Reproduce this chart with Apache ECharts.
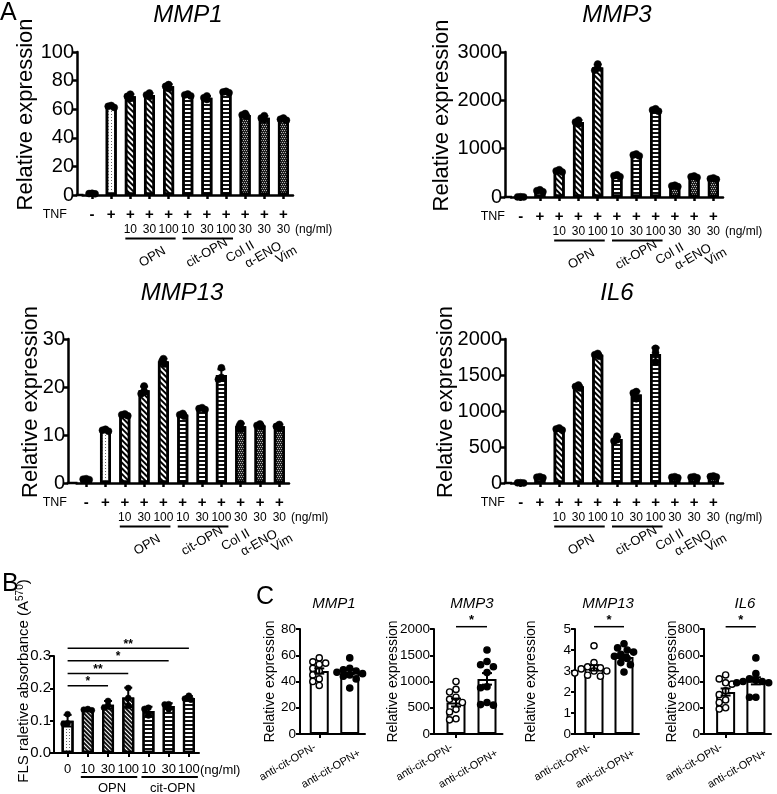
<!DOCTYPE html>
<html><head><meta charset="utf-8">
<script src="https://cdn.jsdelivr.net/npm/echarts@6/dist/echarts.min.js"></script>
<style>html,body{margin:0;padding:0;background:#fff}#c{width:777px;height:794px}</style>
</head><body><div id="c"></div>
<script>
// ================= DATA =================
// Panel A (four genes, 11 conditions)
const aCategories = ['TNF-', 'TNF', 'OPN 10', 'OPN 30', 'OPN 100', 'cit-OPN 10', 'cit-OPN 30', 'cit-OPN 100', 'Col II 30', 'α-ENO 30', 'Vim 30'];
const aTnf = ['-', '+', '+', '+', '+', '+', '+', '+', '+', '+', '+'];
const aDose = ['', '', '10', '30', '100', '10', '30', '100', '30', '30', '30'];
const aUnderlineFrom = [2, 5];
const aUnderlineTo = [4, 7];
const aNames = ['OPN', 'cit-OPN', 'Col II', 'α-ENO', 'Vim'];
const aNameCat = [3, 6, 8, 9, 10];

const mmp1Mean = [1, 62, 69, 70, 76, 70, 68, 72, 56, 54, 53];
const mmp1Sd = [0.3, 0.8, 1.5, 1.2, 1.5, 0.7, 1.2, 0.5, 1.0, 1.3, 0.8];
const mmp1Pts = [[0.8, 1.0, 1.2], [61.2, 62, 62.6], [67.5, 69, 70.5], [68.8, 70, 71.3], [74.5, 76, 77.2], [69.3, 70, 70.6], [66.8, 68, 69.3], [71.5, 72, 72.5], [55, 56, 57], [52.6, 53.8, 55.5], [52.3, 53, 53.8]];

const mmp3Mean = [0, 130, 540, 1550, 2680, 440, 870, 1800, 230, 420, 380];
const mmp3Sd = [8, 20, 25, 40, 60, 20, 20, 25, 15, 15, 15];
const mmp3Pts = [[0, 2, 5], [110, 130, 150], [515, 540, 565], [1510, 1550, 1590], [2620, 2670, 2750], [420, 440, 460], [850, 870, 890], [1775, 1800, 1825], [215, 230, 245], [405, 420, 435], [365, 380, 395]];

const mmp13Mean = [0.8, 11, 14.2, 19.3, 25.3, 14.2, 15.5, 22.5, 11.8, 12.0, 11.8];
const mmp13Sd = [0.1, 0.2, 0.2, 0.8, 0.6, 0.3, 0.2, 1.2, 0.6, 0.3, 0.4];
const mmp13Pts = [[0.7, 0.8, 0.9], [10.8, 11, 11.2], [14, 14.2, 14.4], [18.6, 19.1, 20.2], [24.8, 25.3, 25.9], [13.9, 14.2, 14.5], [15.3, 15.5, 15.7], [21.6, 22, 24], [11.2, 11.8, 12.4], [11.7, 12, 12.3], [11.4, 11.8, 12.2]];

const il6Mean = [0, 80, 750, 1340, 1780, 610, 1230, 1790, 80, 80, 90];
const il6Sd = [3, 8, 15, 20, 20, 30, 45, 90, 8, 8, 10];
const il6Pts = [[0, 2, 4], [72, 80, 88], [735, 750, 765], [1320, 1340, 1360], [1760, 1780, 1800], [585, 600, 650], [1170, 1250, 1270], [1680, 1810, 1870], [72, 80, 88], [72, 80, 88], [82, 90, 98]];

// Panel B
const bCategories = ['0', 'OPN 10', 'OPN 30', 'OPN 100', 'cit-OPN 10', 'cit-OPN 30', 'cit-OPN 100'];
const bDose = ['0', '10', '30', '100', '10', '30', '100'];
const bUnderlineFrom = [1, 4];
const bUnderlineTo = [3, 6];
const bNames = ['OPN', 'cit-OPN'];
const bMean = [0.100, 0.134, 0.149, 0.172, 0.130, 0.145, 0.170];
const bSd = [0.018, 0.002, 0.012, 0.030, 0.013, 0.009, 0.006];
const bPts = [[0.090, 0.092, 0.120], [0.132, 0.134, 0.136], [0.140, 0.147, 0.161], [0.146, 0.170, 0.201], [0.116, 0.136, 0.140], [0.135, 0.150, 0.151], [0.165, 0.168, 0.177]];
const bSigFrom = [0, 0, 0, 0];
const bSigTo = [2, 3, 5, 6];
const bSigY = [0.208, 0.246, 0.285, 0.324];
const bSigMark = ['*', '**', '*', '**'];

// Panel C
const cCategories = ['anti-cit-OPN-', 'anti-cit-OPN+'];
const cTitles = ['MMP1', 'MMP3', 'MMP13', 'IL6'];
const c1Neg = [55, 58, 54, 53, 50, 48, 45, 42, 40, 37];
const c1Pos = [58, 50, 49, 48, 47, 46, 45, 44, 42, 35];
const c1Mean = [48, 47.5];
const c1Sem = [2.0, 1.9];
const c2Neg = [1000, 850, 800, 700, 660, 600, 470, 420, 290, 270];
const c2Pos = [1600, 1380, 1320, 1280, 1170, 900, 880, 600, 560, 550];
const c2Mean = [600, 1050];
const c2Sem = [75, 110];
const c3Neg = [4.2, 3.4, 3.2, 3.15, 3.1, 3.0, 3.0, 2.9, 2.8, 2.75];
const c3Pos = [4.3, 4.1, 4.0, 3.9, 3.8, 3.7, 3.6, 3.4, 3.3, 2.95];
const c3Mean = [3.15, 3.67];
const c3Sem = [0.13, 0.12];
const c4Neg = [450, 420, 390, 380, 330, 300, 260, 240, 200, 190];
const c4Pos = [580, 460, 420, 410, 400, 400, 390, 390, 280, 280];
const c4Mean = [320, 405];
const c4Sem = [27, 27];
const cSigY = [null, 2044, 5.11, 817];

// ================= STYLE / LAYOUT =================
const FONT = '"Liberation Sans", Arial, Helvetica, sans-serif';
const L = [
  {axisX: 77, left: 82.5, right: 293, top: 52, bottom: 195, tnfRight: 67, nameGap: 40},   // A MMP1
  {axisX: 505, left: 511, right: 723, top: 52, bottom: 197, tnfRight: 505, nameGap: 52}, // A MMP3
  {axisX: 68, left: 76.5, right: 289, top: 339, bottom: 483, tnfRight: 67, nameGap: 26}, // A MMP13
  {axisX: 505, left: 511, right: 723, top: 339, bottom: 483, tnfRight: 505, nameGap: 48},// A IL6
  {axisX: 54, left: 57.5, right: 199, top: 656, bottom: 753},                             // B
  {axisX: 300, left: 304, right: 365, top: 629, bottom: 734, nameGap: 23},                // C1
  {axisX: 434, left: 440.5, right: 502.5, top: 629, bottom: 734, nameGap: 34},            // C2
  {axisX: 575, left: 579, right: 639, top: 629, bottom: 734, nameGap: 37},                // C3
  {axisX: 704, left: 710.5, right: 771, top: 629, bottom: 734, nameGap: 25}               // C4
];
const FILL = {
  stipple: {color: '#fff', decal: {symbol: 'rect', symbolSize: 1, color: '#666', dashArrayX: [[1, 2]], dashArrayY: [1, 2], rotation: 0}},
  diag: {color: '#fff', decal: {symbol: 'rect', symbolSize: 1, color: '#000', dashArrayX: [[1, 0]], dashArrayY: [2, 2], rotation: Math.PI / 4}},
  diagDark: {color: '#fff', decal: {symbol: 'rect', symbolSize: 1, color: '#111', dashArrayX: [[1, 0]], dashArrayY: [2, 1], rotation: Math.PI / 4}},
  horiz: {color: '#fff', decal: {symbol: 'rect', symbolSize: 1, color: '#111', dashArrayX: [[1, 0]], dashArrayY: [2, 2], rotation: 0}},
  check: {color: '#1e1e1e', decal: {symbol: 'rect', symbolSize: 0.9, color: '#c8c8c8', dashArrayX: [[1, 1], [0, 1, 1, 0]], dashArrayY: [1, 1], rotation: 0}},
  plain: {color: '#fff'}
};
const aFills = ['stipple', 'stipple', 'diag', 'diag', 'diag', 'horiz', 'horiz', 'horiz', 'check', 'check', 'check'];
const bFills = ['stipple', 'diagDark', 'diagDark', 'diagDark', 'horiz', 'horiz', 'horiz'];

function swarm(ys, minDist, step) {
  const order = ys.map((_, i) => i).sort((a, b) => ys[a] - ys[b]);
  const placed = [], offs = [];
  for (const i of order) {
    for (let k = 0; k < 80; k++) {
      const c = k === 0 ? 0 : (k % 2 ? -1 : 1) * Math.ceil(k / 2) * step;
      if (placed.every(p => (p.x - c) ** 2 + (p.y - ys[i]) ** 2 >= minDist * minDist - 1e-6)) {
        offs[i] = c; placed.push({x: c, y: ys[i]}); break;
      }
    }
  }
  return offs;
}

const grids = [], xAxes = [], yAxes = [], series = [];

function addPanel(g, cats, yCfg, xLabel, aw) {
  const l = L[g];
  grids.push({left: l.left, top: l.top, width: l.right - l.left, height: l.bottom - l.top, containLabel: false, outerBoundsMode: 'none'});
  xAxes.push(Object.assign({
    type: 'category', gridIndex: g, data: cats,
    axisLine: {show: true, lineStyle: {color: '#000', width: aw}},
    axisTick: {show: true, alignWithLabel: true, length: 4, lineStyle: {color: '#000', width: aw}},
    splitLine: {show: false}
  }, xLabel));
  yAxes.push({
    type: 'value', gridIndex: g, min: yCfg.min, max: yCfg.max, interval: yCfg.interval,
    offset: l.left - l.axisX,
    name: yCfg.name || '', nameLocation: 'middle', nameGap: l.nameGap || 30, nameMoveOverlap: false,
    nameTextStyle: {color: '#000', fontSize: yCfg.nameSize, fontFamily: FONT, padding: yCfg.namePad || 0},
    axisLine: {show: true, lineStyle: {color: '#000', width: aw}},
    axisTick: {show: true, length: 4, lineStyle: {color: '#000', width: aw}},
    axisLabel: {color: '#000', fontSize: yCfg.labelSize, fontFamily: FONT, margin: yCfg.margin, formatter: yCfg.fmt || (v => String(v))},
    splitLine: {show: false}
  });
}

function barSeries(g, means, fills, bw, bbw) {
  series.push({
    type: 'bar', xAxisIndex: g, yAxisIndex: g, barWidth: bw, silent: true, z: 2,
    data: means.map((v, i) => ({value: v, itemStyle: Object.assign({borderColor: '#000', borderWidth: bbw}, FILL[fills[i]])}))
  });
}
function errSeries(g, means, errs, capHalf, lw) {
  series.push({
    type: 'custom', xAxisIndex: g, yAxisIndex: g, clip: false, silent: true, z: 5,
    data: means.map((m, i) => [i, m, errs[i]]),
    renderItem(params, api) {
      const i = api.value(0), m = api.value(1), e = api.value(2);
      const t = api.coord([i, m + e]), b = api.coord([i, Math.max(m - e, 0)]);
      const st = {stroke: '#000', lineWidth: lw};
      return {type: 'group', children: [
        {type: 'line', shape: {x1: t[0], y1: t[1], x2: b[0], y2: b[1]}, style: st},
        {type: 'line', shape: {x1: t[0] - capHalf, y1: t[1], x2: t[0] + capHalf, y2: t[1]}, style: st},
        {type: 'line', shape: {x1: b[0] - capHalf, y1: b[1], x2: b[0] + capHalf, y2: b[1]}, style: st}
      ]};
    }
  });
}
function ptSeries(g, pts, r, lw, fillOf, minDist, step) {
  series.push({
    type: 'custom', xAxisIndex: g, yAxisIndex: g, clip: false, silent: true, z: 4,
    data: pts.map((p, i) => [i, p[0]]),
    renderItem(params, api) {
      const i = params.dataIndex;
      const c = pts[i].map(v => api.coord([i, v]));
      const offs = swarm(c.map(q => q[1]), minDist, step);
      return {type: 'group', children: c.map((q, k) => ({
        type: 'circle', shape: {cx: q[0] + offs[k], cy: q[1], r: r},
        style: {fill: fillOf(i), stroke: '#000', lineWidth: lw}
      }))};
    }
  });
}
function sigSeries(g, from, to, ys, marks, lw, gap, font) {
  series.push({
    type: 'custom', xAxisIndex: g, yAxisIndex: g, clip: false, silent: true, z: 5,
    data: from.map((f, k) => [f, ys[k]]),
    renderItem(params, api) {
      const k = params.dataIndex;
      const a = api.coord([from[k], ys[k]]), b = api.coord([to[k], ys[k]]);
      return {type: 'group', children: [
        {type: 'line', shape: {x1: a[0], y1: a[1], x2: b[0], y2: b[1]}, style: {stroke: '#000', lineWidth: lw}},
        {type: 'text', x: (a[0] + b[0]) / 2, y: a[1] - gap, style: {text: marks[k], fill: '#000', font: font, align: 'center', verticalAlign: 'middle'}}
      ]};
    }
  });
}

// ---- Panel A ----
const aLabel = {axisLabel: {
  interval: 0, margin: 12.5, color: '#000', fontFamily: FONT,
  formatter: (v, i) => '{s|' + aTnf[i] + '}\n{d|' + (aDose[i] || ' ') + '}',
  rich: {s: {fontSize: 15, fontWeight: 'bold', lineHeight: 15, fontFamily: FONT, color: '#000'},
         d: {fontSize: 12, lineHeight: 15, fontFamily: FONT, color: '#000'}}
}};
const aSets = [
  [mmp1Mean, mmp1Sd, mmp1Pts, {min: 0, max: 100, interval: 20}],
  [mmp3Mean, mmp3Sd, mmp3Pts, {min: 0, max: 3000, interval: 1000}],
  [mmp13Mean, mmp13Sd, mmp13Pts, {min: 0, max: 30, interval: 10}],
  [il6Mean, il6Sd, il6Pts, {min: 0, max: 2000, interval: 500}]
];
aSets.forEach((s, g) => {
  addPanel(g, aCategories, Object.assign({name: 'Relative expression', nameSize: 22, labelSize: 20, margin: 3, namePad: [0, 0, 0, 18]}, s[3]), aLabel, 2.5);
  barSeries(g, s[0], aFills, 11, 2.5);
  ptSeries(g, s[2], 3.5, 0.5, () => '#000', 3, 1.5);
  errSeries(g, s[0], s[1], 4, 2);
});

// ---- Panel B ----
addPanel(4, bCategories, {min: 0, max: 0.3, interval: 0.1, labelSize: 15, margin: 3, fmt: v => v.toFixed(1)},
  {axisLabel: {interval: 0, margin: 10, color: '#000', fontFamily: FONT, fontSize: 13, formatter: (v, i) => bDose[i]}}, 2);
barSeries(4, bMean, bFills, 12, 2.2);
ptSeries(4, bPts, 3, 0.5, () => '#000', 4, 2);
errSeries(4, bMean, bSd, 4, 2);
sigSeries(4, bSigFrom, bSigTo, bSigY, bSigMark, 1.5, 4, 'bold 12px ' + FONT);

// ---- Panel C ----
const cSets = [
  [c1Mean, c1Sem, [c1Neg, c1Pos], {min: 0, max: 80, interval: 20}],
  [c2Mean, c2Sem, [c2Neg, c2Pos], {min: 0, max: 2000, interval: 500}],
  [c3Mean, c3Sem, [c3Neg, c3Pos], {min: 0, max: 5, interval: 1}],
  [c4Mean, c4Sem, [c4Neg, c4Pos], {min: 0, max: 800, interval: 200}]
];
cSets.forEach((s, k) => {
  const g = 5 + k;
  addPanel(g, cCategories, Object.assign({name: 'Relative expression', nameSize: 14, labelSize: 13.5, margin: 4}, s[3]),
    {axisLabel: {show: false}}, 2);
  barSeries(g, s[0], ['plain', 'plain'], 19, 2);
  ptSeries(g, s[2], 3.1, 1.4, i => (i === 0 ? '#fff' : '#000'), 6.4, 3.2);
  errSeries(g, s[0], s[1], 5, 2);
  if (cSigY[k] != null) sigSeries(g, [0], [1], [cSigY[k]], ['*'], 1.5, 6, 'bold 13px ' + FONT);
});

const titleStyle = (size, italic) => ({color: '#000', fontFamily: FONT, fontSize: size, fontWeight: 'normal', fontStyle: italic ? 'italic' : 'normal', lineHeight: size});
const titles = [
  {text: 'A', left: 0, top: 1, textStyle: titleStyle(25)},
  {text: 'MMP1', left: 188, top: 3, textAlign: 'center', textStyle: titleStyle(24, true)},
  {text: 'MMP3', left: 617, top: 3, textAlign: 'center', textStyle: titleStyle(24, true)},
  {text: 'MMP13', left: 182, top: 281, textAlign: 'center', textStyle: titleStyle(24, true)},
  {text: 'IL6', left: 617, top: 281, textAlign: 'center', textStyle: titleStyle(24, true)},
  {text: 'B', left: 2, top: 572, textStyle: titleStyle(25)},
  {text: 'C', left: 256, top: 585, textStyle: titleStyle(25)}
];
const cTitleX = [334, 472, 608, 745];
cTitles.forEach((t, k) => titles.push({text: t, left: cTitleX[k], top: 596, textAlign: 'center', textStyle: titleStyle(15, true)}));
titles.forEach(t => { t.padding = 0; });

const option = {
  animation: false, backgroundColor: '#fff',
  title: titles, grid: grids, xAxis: xAxes, yAxis: yAxes, series: series
};
const chart = echarts.init(document.getElementById('c'), null, {width: 777, height: 794});
chart.setOption(option);

// ---- annotations tied to the axes ----
const px = (g, x, y) => chart.convertToPixel({gridIndex: g}, [x, y]);
const gfx = [];
function txt(x, y, text, font, o) {
  o = o || {};
  gfx.push({type: 'text', x: x, y: y, rotation: o.rot || 0, silent: true, z: 10,
    style: {text: text, fill: '#000', font: font, align: o.align || 'center', verticalAlign: o.va || 'middle', rich: o.rich}});
}
function ln(x1, y1, x2, y2, w) {
  gfx.push({type: 'line', silent: true, z: 10, shape: {x1: x1, y1: y1, x2: x2, y2: y2}, style: {stroke: '#000', lineWidth: w}});
}
// fill the gap between offset y axis and x axis start
L.forEach((l, g) => {
  const w = g < 4 ? 2.5 : 2;
  ln(l.axisX - w / 2, l.bottom, l.left + 1, l.bottom, w);
});
const aNameDx = [3, 0, -5, -1, 3];
const aNameDy = [62, 58, 57, 60, 60];
for (let g = 0; g < 4; g++) {
  const base = px(g, 0, 0)[1];
  txt(L[g].tnfRight, base + 20, 'TNF', '12.5px ' + FONT, {align: 'right'});
  txt(L[g].right + 2, base + 35, '(ng/ml)', '12px ' + FONT, {align: 'left'});
  aUnderlineFrom.forEach((f, k) => ln(px(g, f, 0)[0] - 5, base + 43.5, px(g, aUnderlineTo[k], 0)[0] + 7, base + 43.5, 2));
  aNames.forEach((n, k) => txt(px(g, aNameCat[k], 0)[0] + aNameDx[k], base + aNameDy[k], n, '13px ' + FONT, {rot: Math.PI / 6}));
}
{
  const g = 4, base = px(g, 0, 0)[1];
  txt(L[g].right + 1, base + 17, '(ng/ml)', '13px ' + FONT, {align: 'left'});
  bUnderlineFrom.forEach((f, k) => {
    ln(px(g, f, 0)[0] - 7, base + 24, px(g, bUnderlineTo[k], 0)[0] + 9, base + 24, 2);
    txt(px(g, (f + bUnderlineTo[k]) / 2, 0)[0] + 4, base + 35, bNames[k], '13px ' + FONT);
  });
  txt(24, 681, 'FLS raletive absorbance (A{sup|570})', '15px ' + FONT,
    {rot: Math.PI / 2, rich: {sup: {fontSize: 10, fontFamily: FONT, verticalAlign: 'top', lineHeight: 18, fill: '#000'}}});
}
const cDx = [-4, 10], cDy = [12.5, 18.5];
for (let k = 0; k < 4; k++) {
  const g = 5 + k, base = px(g, 0, 0)[1];
  cCategories.forEach((c, i) => txt(px(g, i, 0)[0] + cDx[i], base + cDy[i], c, '11px ' + FONT, {rot: Math.PI / 6, align: 'right'}));
}
chart.setOption({graphic: {elements: gfx}});
</script>
</body></html>
